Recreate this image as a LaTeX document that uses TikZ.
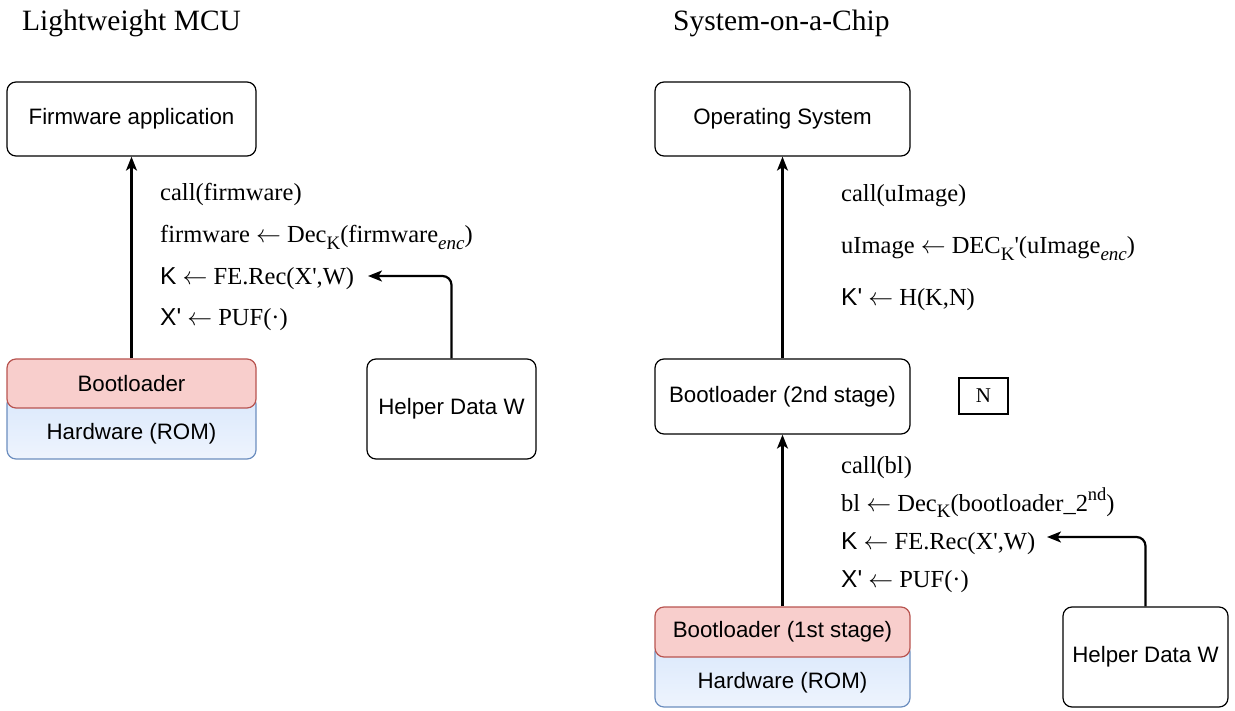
\documentclass[tikz,border=0pt]{standalone}
\usepackage{fontspec}
\setmainfont{Liberation Serif}
\newfontfamily\boxfont{Liberation Sans}
\usetikzlibrary{arrows.meta}

\definecolor{bootfill}{HTML}{F8CECC}
\definecolor{bootline}{HTML}{B85450}
\definecolor{hwfill}{HTML}{DAE8FC}
\definecolor{hwfade}{HTML}{EEF4FD}
\definecolor{hwline}{HTML}{6C8EBF}

\newcommand{\sK}{{\boxfont K}}
\newcommand{\sX}{{\boxfont X\textquotesingle}}
\newcommand{\apos}{\textquotesingle}
\newcommand{\assign}{~$\leftarrow$~}
\newcommand{\lowidx}[1]{\raisebox{-0.27em}{\fontsize{19}{22}\selectfont #1}}
\newcommand{\highidx}[1]{\raisebox{0.42em}{\fontsize{18.5}{22}\selectfont #1}}

\tikzset{
  plainbox/.style={draw=black, line width=1.2pt, rounded corners=9pt, fill=white,
    inner sep=0pt, font=\boxfont\fontsize{22.3}{26}\selectfont},
  bootbox/.style={plainbox, draw=bootline, fill=bootfill},
  hwbox/.style={plainbox, draw=hwline, top color=hwfill, bottom color=hwfade},
  squarebox/.style={draw=black, line width=1.2pt, inner sep=0pt,
    font=\fontsize{21}{24}\selectfont},
  note/.style={anchor=base west, inner sep=0pt, font=\fontsize{24.5}{28}\selectfont},
  title/.style={anchor=base west, inner sep=0pt, font=\fontsize{29.5}{34}\selectfont},
  flow/.style={line width=2.2pt, -{Stealth[length=14pt, width=11pt, inset=3.5pt]}},
  bent/.style={flow, rounded corners=9pt},
}

\begin{document}
\begin{tikzpicture}[x=1pt, y=-1pt]
\useasboundingbox (0,0) rectangle (1235,711);

% ---------- left: lightweight MCU ----------
\node[title] (titleL) at (22,31) {Lightweight MCU};

\node[plainbox, minimum width=249pt, minimum height=74pt] (fw) at (131.5,119) {Firmware application};
\node[hwbox, minimum width=249pt, minimum height=64pt] (hwL) at (131.5,427) {};
\node[bootbox, minimum width=249pt, minimum height=49pt] (blL) at (131.5,383.5) {Bootloader};
\node[font=\boxfont\fontsize{22.3}{26}\selectfont, inner sep=0pt] (hwLtext) at (131.5,434) {Hardware (ROM)};
\node[plainbox, minimum width=169pt, minimum height=100pt] (helperL) at (451.5,409) {Helper Data W};

\node[note] (l1) at (160,201) {call(firmware)};
\node[note] (l2) at (160,243) {firmware\assign Dec\lowidx{K}(firmware\lowidx{\itshape enc})};
\node[note] (l3) at (160,284.5) {\sK\assign FE.Rec(X\apos,W)};
\node[note] (l4) at (160,326) {\sX\assign PUF(·)};
\coordinate (tipL) at (368,276);

\draw[flow] (blL.north) -- (fw.south);
\draw[bent] (helperL.north) |- (tipL);

% ---------- right: system-on-a-chip ----------
\node[title] (titleR) at (673,31) {System-on-a-Chip};

\node[plainbox, minimum width=255pt, minimum height=74pt] (os) at (782.5,119) {Operating System};
\node[plainbox, minimum width=255pt, minimum height=75pt] (bl2) at (782.5,396.5) {Bootloader (2nd stage)};
\node[squarebox, minimum width=49pt, minimum height=36pt] (nonce) at (983.5,396) {N};
\node[hwbox, minimum width=255pt, minimum height=64pt] (hwR) at (782.5,675) {};
\node[bootbox, minimum width=255pt, minimum height=50pt] (bl1) at (782.5,632) {Bootloader (1st stage)};
\node[font=\boxfont\fontsize{22.3}{26}\selectfont, inner sep=0pt] (hwRtext) at (782.5,683) {Hardware (ROM)};
\node[plainbox, minimum width=165pt, minimum height=100pt] (helperR) at (1145.5,657) {Helper Data W};

\node[note] (r1) at (841,202) {call(uImage)};
\node[note] (r2) at (841,254) {uImage\assign DEC\lowidx{K}\apos(uImage\lowidx{\itshape enc})};
\node[note] (r3) at (841,305.5) {{\boxfont K\textquotesingle}\assign H(K,N)};

\node[note] (r4) at (841,473) {call(bl)};
\node[note] (r5) at (841,511) {bl\assign Dec\lowidx{K}(bootloader\_2\highidx{nd})};
\node[note] (r6) at (841,549) {\sK\assign FE.Rec(X\apos,W)};
\node[note] (r7) at (841,587) {\sX\assign PUF(·)};
\coordinate (tipR) at (1047,537);

\draw[flow] (bl2.north) -- (os.south);
\draw[flow] (bl1.north) -- (bl2.south);
\draw[bent] (helperR.north) |- (tipR);
\end{tikzpicture}
\end{document}
